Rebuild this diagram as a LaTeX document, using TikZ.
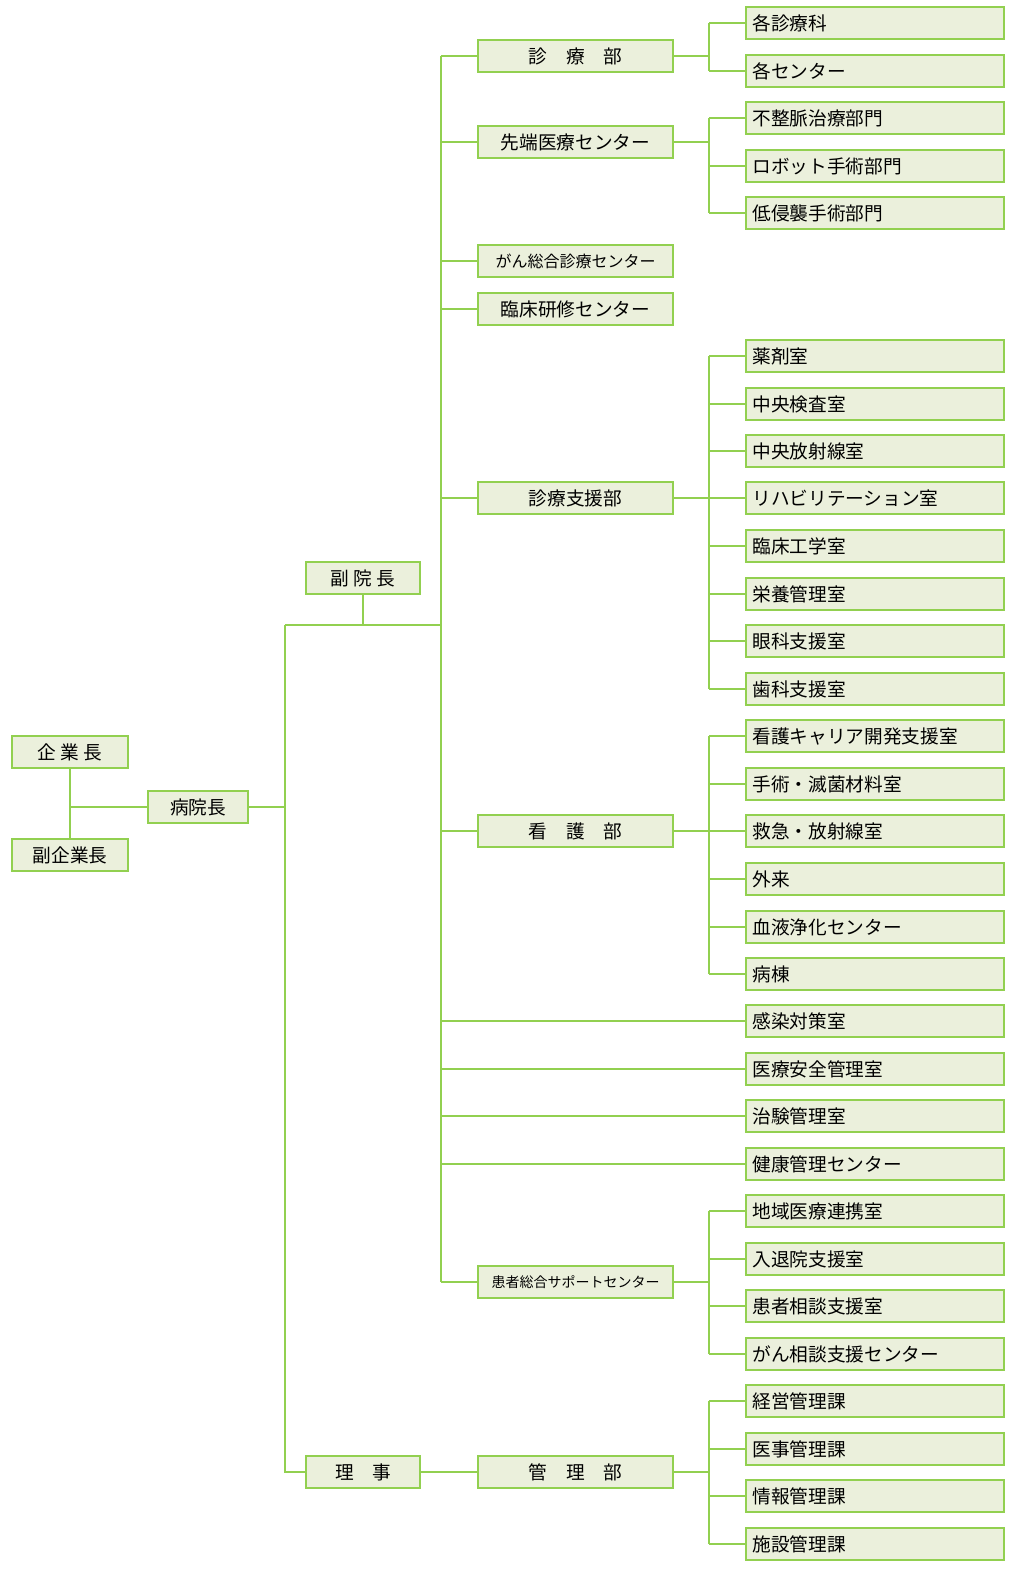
\documentclass[tikz,border=0pt]{standalone}
\usepackage{fontspec}
\setmainfont{Noto Sans CJK JP}
\definecolor{bd}{HTML}{92D050}
\definecolor{fl}{HTML}{EBF0DC}
\begin{document}
\begin{tikzpicture}[x=0.75pt,y=-0.75pt,
 box/.style={draw=bd,fill=fl,line width=1.6pt,minimum height=24pt,inner sep=0pt,font=\fontsize{14}{16}\selectfont},
 rbox/.style={box,minimum width=193.5pt,anchor=center,text width=184pt,align=left},
 mbox/.style={box,minimum width=146pt},
 ln/.style={draw=bd,line width=1.2pt}]
\useasboundingbox (0,0) rectangle (1029,1585);
\node[box,minimum width=87pt] (ceo) at (70,752) {企 業 長};
\node[box,minimum width=87pt] (vceo) at (70,855) {副企業長};
\node[box,minimum width=75pt] (dir) at (198,807) {病院長};
\node[box,minimum width=86pt] (vdir) at (363,578) {副 院 長};
\node[box,minimum width=86pt] (rij) at (363,1472) {理　事};
\coordinate (j1) at (70,807);
\draw[ln] (ceo) -- (vceo);
\draw[ln] (j1) -- (dir);
\coordinate (tk) at (285,807);
\draw[ln] (dir) -- (tk);
\coordinate (ta) at (285,625); \coordinate (tb) at (285,1472);
\coordinate (va) at (363,625);
\draw[ln] (ta) -- (tb) -- (rij);
\draw[ln] (vdir) -- (va);
\coordinate (tr0) at (441,56); \coordinate (tr1) at (441,1282); \coordinate (tr2) at (441,625);
\draw[ln] (ta) -- (tr2);
\draw[ln] (tr0) -- (tr1);
% middle boxes
\foreach \n/\y/\t/\f in {m1/56/{診　療　部}/14, m2/142/{先端医療センター}/14, m3/261/{がん総合診療センター}/12, m4/309/{臨床研修センター}/14, m5/498/{診療支援部}/14, m6/831/{看　護　部}/14, m7/1282/{患者総合サポートセンター}/10.5}{
 \node[mbox,font=\fontsize{\f}{16}\selectfont] (\n) at (575.5,\y) {\t};
 \draw[ln] (441,\y) -- (\n);
}
\node[mbox] (m8) at (575.5,1472) {管　理　部};
\draw[ln] (rij) -- (m8);
% right boxes: name/y/text/parent
\foreach \n/\y/\t in {
 r1/23/各診療科, r2/71/各センター,
 r3/118/不整脈治療部門, r4/166/ロボット手術部門, r5/213/低侵襲手術部門,
 r6/356/薬剤室, r7/404/中央検査室, r8/451/中央放射線室, r9/498/リハビリテーション室, r10/546/臨床工学室, r11/594/栄養管理室, r12/641/眼科支援室, r13/689/歯科支援室,
 r14/736/看護キャリア開発支援室, r15/784/手術・滅菌材料室, r16/831/救急・放射線室, r17/879/外来, r18/927/血液浄化センター, r19/974/病棟,
 r20/1021/感染対策室, r21/1069/医療安全管理室, r22/1116/治験管理室, r23/1164/健康管理センター,
 r24/1211/地域医療連携室, r25/1259/入退院支援室, r26/1306/患者相談支援室, r27/1354/がん相談支援センター,
 r28/1401/経営管理課, r29/1449/医事管理課, r30/1496/情報管理課, r31/1544/施設管理課}{
 \node[rbox] (\n) at (875,\y) {\t};
}
% groups
\foreach \m/\ya/\yb/\list in {
 m1/23/71/{r1,r2}, m2/118/213/{r3,r4,r5}, m5/356/689/{r6,r7,r8,r9,r10,r11,r12,r13},
 m6/736/974/{r14,r15,r16,r17,r18,r19}, m7/1211/1354/{r24,r25,r26,r27}, m8/1401/1544/{r28,r29,r30,r31}}{
 \draw[ln] (709,\ya) -- (709,\yb);
 \draw[ln] (\m.east) -- (\m.east -| 709,0);
 \foreach \r in \list { \draw[ln] (\r.west -| 709,0) -- (\r.west); }
}
\foreach \r in {r20,r21,r22,r23}{ \draw[ln] (\r.west -| 441,0) -- (\r.west); }
\end{tikzpicture}
\end{document}
